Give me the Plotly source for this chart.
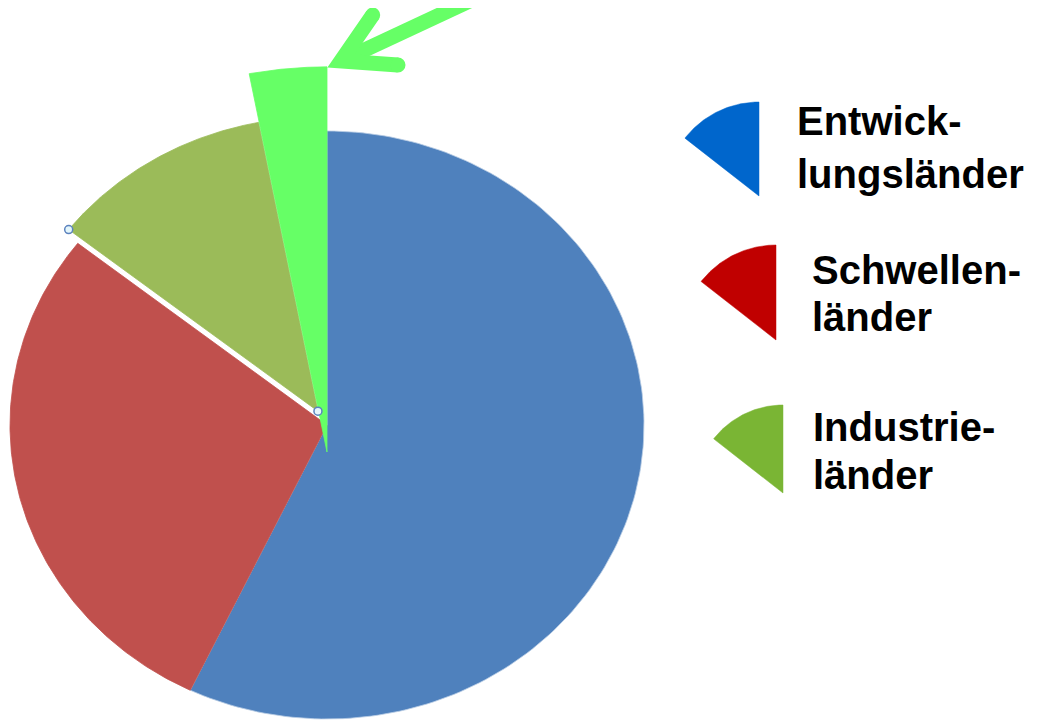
"""
Kreisdiagramm: Anteile nach Ländergruppen mit hervorgehobenem Segment
"""

import numpy as np
import plotly.graph_objects as go

# Daten
kategorien = ['Entwicklungsländer', 'Schwellenländer', 'Industrieländer', 'Hervorhebung']
anteile = [57.1, 28.5, 11.4, 3.0]  # Prozent

legende_zeilen = [['Entwick-', 'lungsländer'], ['Schwellen-', 'länder'], ['Industrie-', 'länder']]

# Stil
farben = ['#4F81BD', '#C0504D', '#9BBB59', '#66FF66']
randfarben = ['#B9CDE5', '#C0504D', '#9BBB59', '#66FF66']
legende_farben = ['#0066CC', '#C00000', '#7AB534']
ziehen = [0, 0, 0.055, 0]          # herausgezogene Segmente
vergroessern = [1, 1, 1, 1.31]     # Hervorhebung größer gezeichnet
versatz_y = [0, 0, 0, 27]          # Spitze der Hervorhebung etwas tiefer

# Geometrie (Pixel im Fenster, y nach unten)
CX, CY = 327, 425
RX, RY = 317, 294
W, H = 1040, 721
RAND = 8  # Seitenrand des Browsers (body margin)

# Legenden-Symbole: Zentrum, Radius
leg_symbole = [(759, 196, 94), (776, 340, 95), (783, 493, 88)]
leg_spanne = 52
leg_text = [(795, [121, 174]), (810, [270, 317]), (811, [427, 475])]
SCHRIFT = 'Liberation Sans, Arial, sans-serif'


def keil(cx, cy, rx, ry, a0, a1, n=160):
    """Keil von Winkel a0 bis a1 (Grad, ab 12 Uhr im Uhrzeigersinn)"""
    t = np.radians(np.linspace(a0, a1, n))
    xs = np.concatenate([[cx], cx + rx * np.sin(t), [cx]])
    ys = np.concatenate([[cy], cy - ry * np.cos(t), [cy]])
    return xs, ys


fig = go.Figure()

gesamt = sum(anteile)
start = 0.0
ecken = []
for i, wert in enumerate(anteile):
    spanne = wert / gesamt * 360
    mitte = np.radians(start + spanne / 2)
    cx = CX + ziehen[i] * RX * np.sin(mitte)
    cy = CY - ziehen[i] * RY * np.cos(mitte) + versatz_y[i]
    xs, ys = keil(cx, cy, RX * vergroessern[i], RY * vergroessern[i], start, start + spanne)
    fig.add_trace(go.Scatter(
        x=xs, y=ys, fill='toself', mode='lines',
        fillcolor=farben[i],
        line=dict(color=randfarben[i], width=0.8),
        name=kategorien[i], hoverinfo='name'
    ))
    if ziehen[i] > 0:
        ecken.append((xs[1], ys[1]))
        ecken.append((cx, cy))
    start += spanne

# Markierungspunkte (Auswahl-Griffe am herausgezogenen Segment)
fig.add_trace(go.Scatter(
    x=[p[0] for p in ecken], y=[p[1] for p in ecken], mode='markers',
    marker=dict(size=8, color='#E4F6FB', line=dict(color='#5B82BE', width=1.5)),
    hoverinfo='skip'
))

# Legende mit Keil-Symbolen
for (sx, sy, r), farbe in zip(leg_symbole, legende_farben):
    xs, ys = keil(sx, sy, r, r, 360 - leg_spanne, 360, n=60)
    fig.add_trace(go.Scatter(
        x=xs, y=ys, fill='toself', mode='lines', fillcolor=farbe,
        line=dict(color=farbe, width=0.5), hoverinfo='skip'
    ))

for (tx, ty_liste), zeilen in zip(leg_text, legende_zeilen):
    for ty, zeile in zip(ty_liste, zeilen):
        fig.add_annotation(
            x=tx, y=ty, text=f'<b>{zeile}</b>', showarrow=False,
            xanchor='left', yanchor='middle',
            font=dict(family=SCHRIFT, size=40, color='black')
        )

# Pfeil auf das hervorgehobene Segment
pfeil_farbe = '#66FF66'
fig.add_shape(type='path', path='M 341,61 L 600,-60', line=dict(color=pfeil_farbe, width=15))
fig.add_shape(type='path', path='M 372.7,15 L 341,61 L 398,65', line=dict(color=pfeil_farbe, width=15))
for ex, ey in [(372.7, 15), (398, 65)]:
    fig.add_shape(type='circle', x0=ex - 7.5, x1=ex + 7.5, y0=ey - 7.5, y1=ey + 7.5,
                  fillcolor=pfeil_farbe, line=dict(width=0))

fig.update_layout(
    width=W, height=H,
    margin=dict(l=0, r=0, t=0, b=0),
    showlegend=False,
    paper_bgcolor='white',
    plot_bgcolor='white',
    xaxis=dict(range=[RAND, W + RAND], visible=False, fixedrange=True),
    yaxis=dict(range=[H + RAND, RAND], visible=False, fixedrange=True),
)

fig.write_html('out.html')
